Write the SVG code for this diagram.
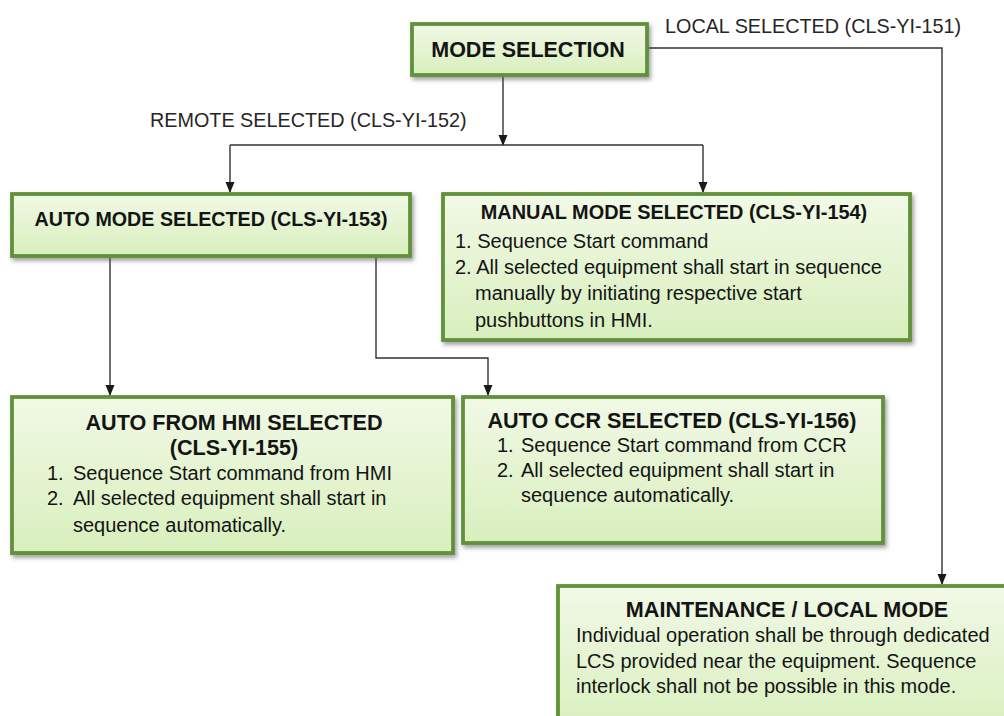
<svg xmlns="http://www.w3.org/2000/svg" width="1004" height="716" viewBox="0 0 1004 716">
<defs>
<linearGradient id="g" x1="0" y1="0" x2="0" y2="1">
<stop offset="0" stop-color="#f1f9e6"/>
<stop offset="1" stop-color="#d8efbd"/>
</linearGradient>
<filter id="sh" x="-5%" y="-10%" width="115%" height="130%">
<feDropShadow dx="2" dy="3" stdDeviation="2" flood-color="#555" flood-opacity="0.55"/>
</filter>
<marker id="ah" markerWidth="11" markerHeight="11" refX="10" refY="5.5" orient="auto" markerUnits="userSpaceOnUse">
<path d="M0,1 L11,5.5 L0,10 Z" fill="#1a1a1a"/>
</marker>
<style>
.box{fill:url(#g);stroke:#62913a;stroke-width:3.8;filter:url(#sh)}
.t{font-family:"Liberation Sans",Arial,sans-serif;fill:#141414}
.b{font-weight:bold}
.c{text-anchor:middle}
.s{font-size:20px}
.lbl{font-family:"Liberation Sans",Arial,sans-serif;fill:#262626;font-size:19.8px}
.ln{fill:none;stroke:#333;stroke-width:1.4}
</style>
</defs>
<rect width="1004" height="716" fill="#ffffff"/>

<g id="connectors">
<path class="ln" d="M503,75 V145" marker-end="url(#ah)"/>
<path class="ln" d="M230,145 H703"/>
<path class="ln" d="M230,145 V192" marker-end="url(#ah)"/>
<path class="ln" d="M703,145 V192" marker-end="url(#ah)"/>
<path class="ln" d="M110,257 V395" marker-end="url(#ah)"/>
<path class="ln" d="M376,257 V358 H488 V395" marker-end="url(#ah)"/>
<path class="ln" d="M648,48 H942 V584" marker-end="url(#ah)"/>
<text class="lbl" x="665" y="33">LOCAL SELECTED (CLS-YI-151)</text>
<text class="lbl" x="150" y="127">REMOTE SELECTED (CLS-YI-152)</text>
</g>

<g id="mode-selection">
<rect class="box" x="412" y="24" width="235" height="51"/>
<text class="t b c" x="528" y="57" font-size="21.5">MODE SELECTION</text>
</g>

<g id="auto-mode">
<rect class="box" x="12" y="194" width="398" height="62"/>
<text class="t b c" x="211" y="226" font-size="19.7">AUTO MODE SELECTED (CLS-YI-153)</text>
</g>

<g id="manual-mode">
<rect class="box" x="443" y="194" width="467" height="146"/>
<text class="t b c" x="674" y="219" font-size="19.9">MANUAL MODE SELECTED (CLS-YI-154)</text>
<text class="t s" x="455" y="248">1. Sequence Start command</text>
<text class="t s" x="455" y="274">2. All selected equipment shall start in sequence</text>
<text class="t s" x="475" y="300">manually by initiating respective start</text>
<text class="t s" x="475" y="327">pushbuttons in HMI.</text>
</g>

<g id="auto-hmi">
<rect class="box" x="12" y="397" width="441" height="156"/>
<text class="t b c" x="234" y="430" font-size="21.6">AUTO FROM HMI SELECTED</text>
<text class="t b c" x="234" y="455" font-size="21.6">(CLS-YI-155)</text>
<text class="t s" x="47" y="480">1.</text>
<text class="t s" x="73" y="480">Sequence Start command from HMI</text>
<text class="t s" x="47" y="505">2.</text>
<text class="t s" x="73" y="505">All selected equipment shall start in</text>
<text class="t s" x="73" y="532">sequence automatically.</text>
</g>

<g id="auto-ccr">
<rect class="box" x="463" y="397" width="420" height="146"/>
<text class="t b c" x="672" y="428" font-size="21.6">AUTO CCR SELECTED (CLS-YI-156)</text>
<text class="t s" x="497" y="452">1.</text>
<text class="t s" x="521" y="452">Sequence Start command from CCR</text>
<text class="t s" x="497" y="477">2.</text>
<text class="t s" x="521" y="477">All selected equipment shall start in</text>
<text class="t s" x="521" y="502">sequence automatically.</text>
</g>

<g id="maintenance">
<rect class="box" x="558" y="586" width="460" height="150"/>
<text class="t b c" x="787" y="617" font-size="21.6">MAINTENANCE / LOCAL MODE</text>
<text class="t s" x="576" y="642">Individual operation shall be through dedicated</text>
<text class="t s" x="576" y="668">LCS provided near the equipment. Sequence</text>
<text class="t s" x="576" y="693">interlock shall not be possible in this mode.</text>
</g>
</svg>
